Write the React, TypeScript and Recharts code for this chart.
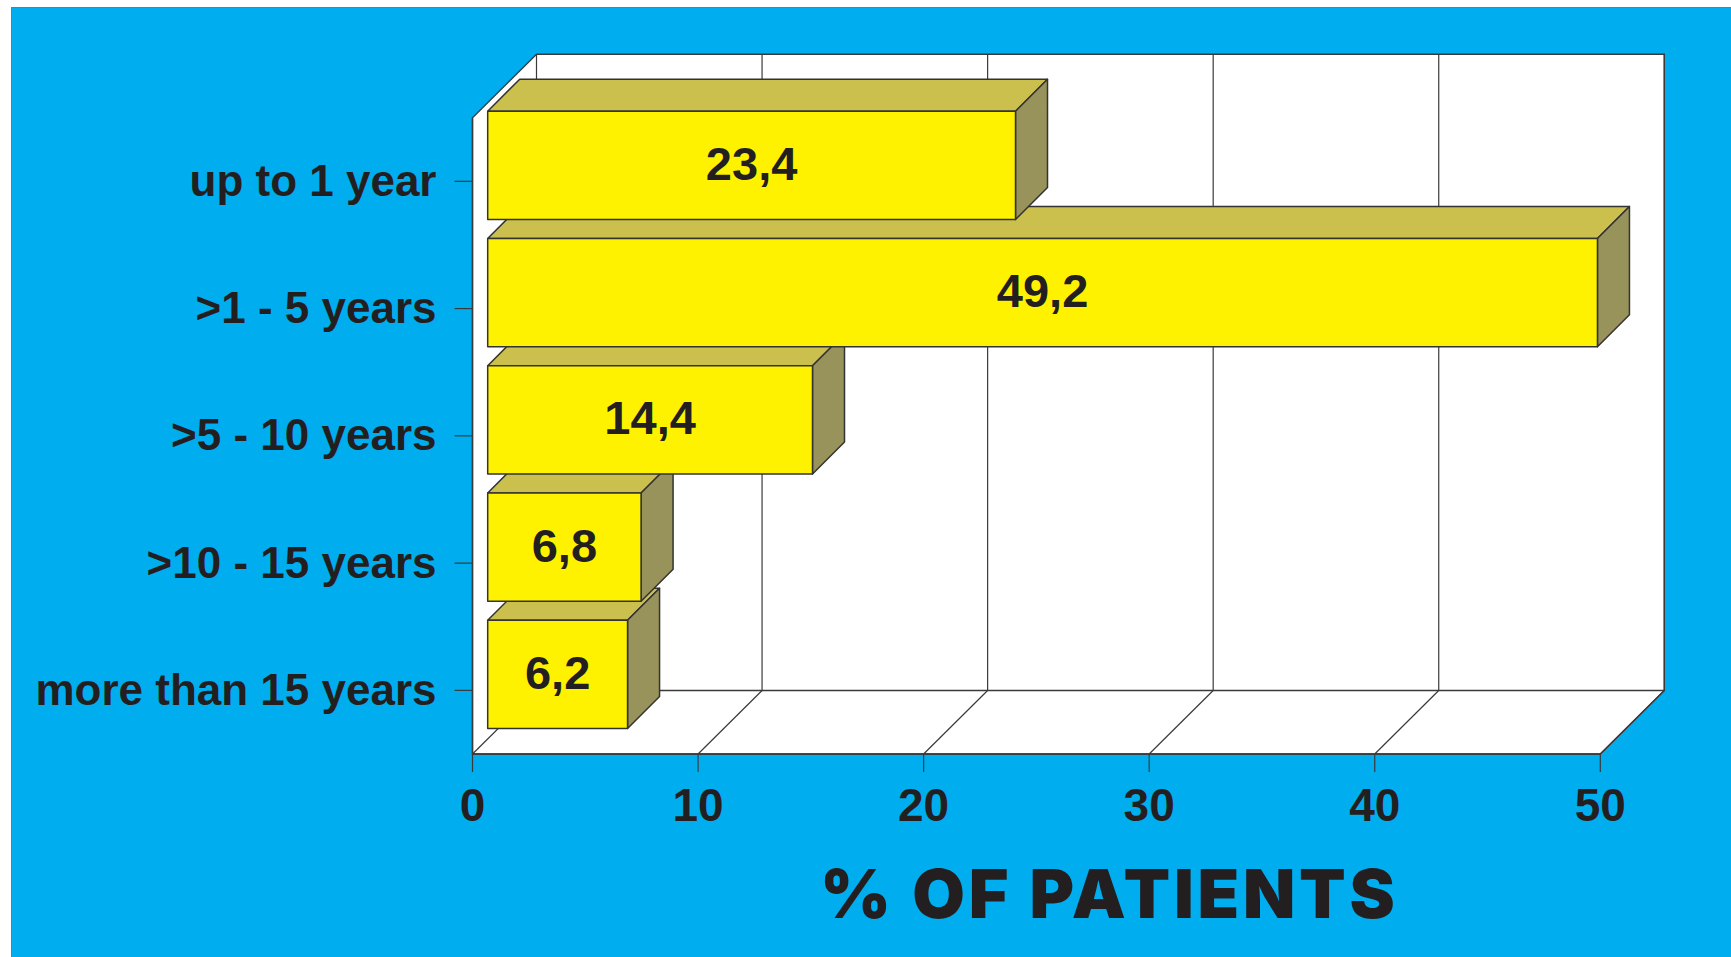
import { BarChart, Bar, XAxis, YAxis, CartesianGrid, LabelList, usePlotArea } from 'recharts';

// bottom row first: the lower boxes are painted before the ones above them
const categories = ['more than 15 years', '>10 - 15 years', '>5 - 10 years', '>1 - 5 years', 'up to 1 year'];
const patientShare = [6.2, 6.8, 14.4, 49.2, 23.4];
const xTicks = [0, 10, 20, 30, 40, 50];
const xTitle = '% OF PATIENTS';

const data = categories.map((name, i) => ({ name, value: patientShare[i] }));

const INK = '#231f20';
const LINE = '#3a3a3a';
const WALL_DX = 64;
const WALL_DY = 63.5;
const BOX_DX = 15.2;
const BOX_DY = -15.5;
const BOX_DEPTH = 32;

// white back wall + floor of the fake 3d plot
const Walls = () => {
  const plot = usePlotArea();
  if (!plot) return null;
  const { x, y, width, height } = plot;
  const right = x + width;
  const bottom = y + height;
  const backTop = y - WALL_DY;
  const backBottom = bottom - WALL_DY;
  const outline = [
    [x, bottom],
    [x, y],
    [x + WALL_DX, backTop],
    [right + WALL_DX, backTop],
    [right + WALL_DX, backBottom],
    [right, bottom],
  ].map((p) => p.join(',')).join(' ');

  return (
    <g>
      <polygon points={outline} fill="#ffffff" stroke={LINE} strokeWidth={1.4} />
      <line x1={x + WALL_DX} y1={backBottom} x2={right + WALL_DX} y2={backBottom} stroke={LINE} strokeWidth={1.4} />
    </g>
  );
};

const WallGridLine = (props: any) => {
  const { x1, y1, y2, key } = props;
  const backX = x1 + WALL_DX;
  return (
    <g key={key}>
      <line x1={x1} y1={y2} x2={backX} y2={y2 - WALL_DY} stroke={LINE} strokeWidth={1.2} />
      <line x1={backX} y1={y1 - WALL_DY} x2={backX} y2={y2 - WALL_DY} stroke={LINE} strokeWidth={1.2} />
    </g>
  );
};

const Box3D = (props: any) => {
  const { x, y, width, height } = props;
  const left = x + BOX_DX;
  const top = y + BOX_DY;
  const right = left + width;
  const bottom = top + height;
  const d = BOX_DEPTH;
  return (
    <g stroke="#333333" strokeWidth={1.5} strokeLinejoin="round">
      <polygon points={`${left},${top} ${left + d},${top - d} ${right + d},${top - d} ${right},${top}`} fill="#cbbf4d" />
      <polygon points={`${right},${top} ${right + d},${top - d} ${right + d},${bottom - d} ${right},${bottom}`} fill="#98935a" />
      <rect x={left} y={top} width={width} height={height} fill="#fff200" />
    </g>
  );
};

const BoxLabel = (props: any) => {
  const { x, y, width, height, value } = props;
  return (
    <text
      x={x + BOX_DX + width / 2}
      y={y + BOX_DY + height / 2 - 2.5}
      dy="0.36em"
      textAnchor="middle"
      fontFamily="'Liberation Sans', Arial, sans-serif"
      fontWeight={700}
      fontSize={47}
      fill={INK}
    >
      {String(value).replace('.', ',')}
    </text>
  );
};

export default function App() {
  const tickStyle = { fontFamily: "'Liberation Sans', Arial, sans-serif", fontWeight: 700, fill: INK };

  return (
    <div style={{ position: 'absolute', left: 0, top: 0, width: 1731, height: 957, background: '#ffffff', overflow: 'hidden' }}>
      <div
        style={{
          position: 'absolute',
          left: 11,
          top: 7,
          width: 1720,
          height: 950,
          boxSizing: 'border-box',
          background: '#00aeef',
          borderLeft: '1px solid #777777',
          borderTop: '1px solid #777777',
        }}
      />
      <div style={{ position: 'absolute', left: 0, top: 0 }}>
        <BarChart
          width={1731}
          height={957}
          data={data}
          layout="vertical"
          barSize={108.3}
          margin={{ top: 117.7, right: 130.7, bottom: 0, left: 0 }}
        >
          <Walls />
          <CartesianGrid horizontal={false} vertical={WallGridLine} zIndex={1} />
          <XAxis
            type="number"
            dataKey="value"
            domain={[0, 50]}
            ticks={xTicks}
            height={203}
            interval={0}
            tickSize={18}
            tickMargin={16}
            axisLine={{ stroke: LINE, strokeWidth: 1.4 }}
            tickLine={{ stroke: LINE, strokeWidth: 1.2 }}
            tick={{ ...tickStyle, fontSize: 46 }}
            label={{
              value: xTitle,
              position: 'insideBottom',
              dx: 73,
              dy: -34,
              style: { fontFamily: "Inter, 'Liberation Sans', sans-serif", fontWeight: 900, fontSize: 68, letterSpacing: 3.8, fill: INK },
            }}
          />
          <YAxis
            type="category"
            dataKey="name"
            reversed
            width={472.5}
            interval={0}
            tickSize={18}
            tickMargin={18}
            axisLine={{ stroke: LINE, strokeWidth: 1.4 }}
            tickLine={{ stroke: LINE, strokeWidth: 1.2 }}
            tick={{ ...tickStyle, fontSize: 44, dy: -1 }}
          />
          <Bar dataKey="value" shape={Box3D} isAnimationActive={false}>
            <LabelList dataKey="value" content={BoxLabel} />
          </Bar>
        </BarChart>
      </div>
    </div>
  );
}
